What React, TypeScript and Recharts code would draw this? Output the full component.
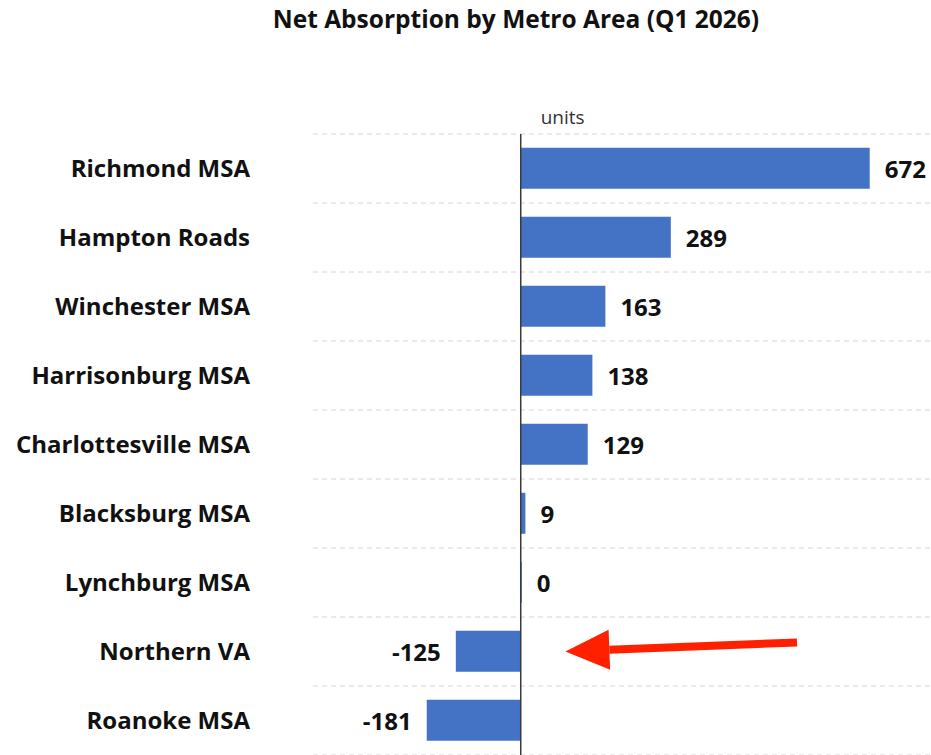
import * as React from "react"
import {
  BarChart,
  Bar,
  XAxis,
  YAxis,
  CartesianGrid,
  ReferenceLine,
  LabelList,
} from "recharts"

const metros = [
  "Richmond MSA",
  "Hampton Roads",
  "Winchester MSA",
  "Harrisonburg MSA",
  "Charlottesville MSA",
  "Blacksburg MSA",
  "Lynchburg MSA",
  "Northern VA",
  "Roanoke MSA",
]
const absorption = [672, 289, 163, 138, 129, 9, 0, -125, -181]

const arrowMetro = "Northern VA"
const arrowFrom = 532
const arrowTo = 86

const data = metros.map((name, i) => ({ name, value: absorption[i] }))

const FONT = "'Open Sans', 'Noto Sans', sans-serif"
const BLUE = "#4472C4"

function ValueLabel(props: any) {
  const { x, y, width, height, value } = props
  const left = Math.min(x, x + width)
  const right = Math.max(x, x + width)
  const v = value ?? 0
  const neg = v < 0
  return (
    <text
      x={neg ? left - 15 : right + 15}
      y={y + height / 2}
      textAnchor={neg ? "end" : "start"}
      dominantBaseline="central"
      fontFamily={FONT}
      fontWeight={700}
      fontSize={24}
      fill="#111"
    >
      {String(v)}
    </text>
  )
}

function UnitsLabel(props: any) {
  const { viewBox } = props
  return (
    <text x={viewBox.x + 20} y={viewBox.y - 10} fontFamily={FONT} fontSize={19} fill="#333">
      units
    </text>
  )
}

function Arrow(props: any) {
  const { x1, y1, x2, y2 } = props
  // tail sits a bit higher than the head, like the hand-drawn callout
  const tailY = y1 - 9
  const ang = Math.atan2(y2 - tailY, x2 - x1)
  const headLen = 44
  const headW = 20
  const bx = x2 - headLen * Math.cos(ang)
  const by = y2 - headLen * Math.sin(ang)
  const px = -Math.sin(ang)
  const py = Math.cos(ang)
  return (
    <g>
      <line x1={x1} y1={tailY} x2={bx} y2={by} stroke="#FF2000" strokeWidth={8} />
      <polygon
        points={`${x2},${y2} ${bx + px * headW},${by + py * headW} ${bx - px * headW},${by - py * headW}`}
        fill="#FF2000"
      />
    </g>
  )
}

export default function App() {
  const rows = metros.length
  return (
    <div style={{ width: 915, height: 739 }}>
      <div style={{ position: "fixed", top: 0, left: 0, width: 931, height: 755, background: "#fff" }}>
        <div
          style={{
            position: "absolute",
            top: 2,
            left: 216,
            width: 600,
            textAlign: "center",
            fontFamily: FONT,
            fontWeight: 700,
            fontSize: 24.5,
            color: "#111",
          }}
        >
          Net Absorption by Metro Area (Q1 2026)
        </div>
        <BarChart
          width={931}
          height={755}
          data={data}
          layout="vertical"
          margin={{ top: 134, right: 0, bottom: 0, left: 0 }}
          barCategoryGap="20%"
        >
          <CartesianGrid
            vertical={false}
            stroke="#d4d4d4"
            strokeDasharray="5 4"
            horizontalCoordinatesGenerator={({ offset }: any) =>
              Array.from({ length: rows + 1 }, (_, i) => offset.top + (i * offset.height) / rows)
            }
          />
          <XAxis type="number" domain={[-400, 790]} hide />
          <YAxis
            type="category"
            dataKey="name"
            width={313}
            axisLine={false}
            tickLine={false}
            tickSize={0}
            tickMargin={63}
            tick={{ fontFamily: FONT, fontWeight: 700, fontSize: 24, fill: "#111" }}
          />
          <Bar dataKey="value" fill={BLUE} minPointSize={1} isAnimationActive={false}>
            <LabelList dataKey="value" content={<ValueLabel />} />
          </Bar>
          <ReferenceLine x={0} stroke="#3a3a3a" strokeWidth={1.5} label={<UnitsLabel />} />
          <ReferenceLine
            segment={[
              { x: arrowFrom, y: arrowMetro },
              { x: arrowTo, y: arrowMetro },
            ]}
            shape={<Arrow />}
          />
        </BarChart>
      </div>
    </div>
  )
}
